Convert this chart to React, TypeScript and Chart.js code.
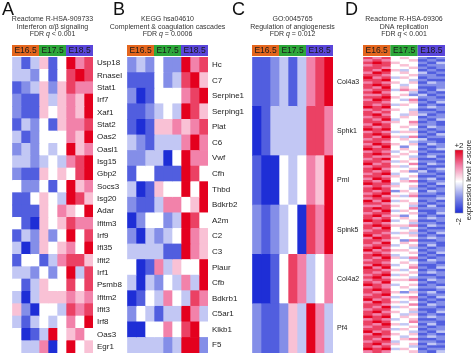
import React, { useEffect, useRef } from "react";
import { Chart, registerables } from "chart.js";
Chart.register(...registerables);

// ---------- data ----------
const sampleLabels = ["E16.5 r1", "E16.5 r2", "E16.5 r3", "E17.5 r1", "E17.5 r2", "E17.5 r3", "E18.5 r1", "E18.5 r2", "E18.5 r3"];
const groupLabels = ["E16.5", "E17.5", "E18.5"];
const groupColors = ["#e4661e", "#2da83a", "#5a46da"];

// levels: digit 0..8 -> z = (d-4)/2, i.e. -2 .. +2
const ifnGenes = ["Usp18", "Rnasel", "Stat1", "Irf7", "Xaf1", "Stat2", "Oas2", "Oasl1", "Isg15", "Gbp2", "Socs3", "Isg20", "Adar", "Ifitm3", "Irf9", "Ifi35", "Ifit2", "Irf1", "Psmb8", "Ifitm2", "Ifit3", "Irf8", "Oas3", "Egr1"];
const ifnLevels = [
  "313 514 867", "332 414 787", "123 525 766", "211 535 658", "211 545 658", "132 415 667",
  "312 444 658", "232 434 856", "332 343 678", "211 545 478", "422 414 856", "114 543 875",
  "111 546 548", "410 545 766", "132 524 847", "302 545 648", "144 136 775", "332 424 837",
  "413 544 747", "303 555 656", "520 443 767", "313 434 648", "401 384 564", "433 604 845",
];

const complementGenes = ["Hc", "C7", "Serpine1", "Serping1", "Plat", "C6", "Vwf", "Cfh", "Thbd", "Bdkrb2", "A2m", "C2", "C3", "Plaur", "Cfb", "Bdkrb1", "C5ar1", "Klkb1", "F5"];
const complementLevels = [
  "232 422 867", "111 423 785", "201 444 678", "112 343 875", "101 556 567", "321 333 686",
  "223 304 866", "144 111 874", "301 544 848", "211 366 458", "024 423 874", "203 234 865",
  "333 311 865", "401 635 448", "303 243 638", "014 364 376", "243 133 863", "004 464 784",
  "333 323 882",
];

const angioGenes = ["Col4a3", "Sphk1", "Pml", "Spink5", "Col4a2", "Pf4"];
const angioLevels = ["112 313 678", "013 333 776", "100 434 658", "212 340 768", "001 476 346", "211 253 863"];

const dnaLevels = [
  "767 454 212", "676 445 121", "787 544 213", "677 454 122", "776 445 212", "768 534 121",
  "687 454 312", "776 445 221", "867 354 122", "778 443 211", "676 545 132", "787 434 222",
  "768 454 112", "677 365 213", "786 443 121", "667 452 312", "778 544 221", "687 436 122",
  "776 445 213", "767 354 121", "878 444 232", "676 543 112", "767 445 221", "786 435 312",
  "677 454 122", "768 344 213", "776 546 121", "687 445 221", "767 454 132", "878 443 212",
  "676 355 121", "787 444 213", "768 536 122", "677 454 311", "776 443 221", "687 545 132",
  "768 424 212", "877 454 123", "676 345 211", "787 454 122", "766 543 231", "678 445 112",
  "776 354 221", "867 446 132", "677 534 211", "786 445 123", "767 452 312", "678 344 221",
  "776 545 112", "687 434 231", "768 456 122", "877 344 213", "676 545 121", "787 443 212",
  "767 254 132", "678 445 221", "786 536 112", "677 444 223", "868 354 121", "776 445 212",
  "667 543 131", "787 446 222", "768 354 112", "677 445 213", "786 524 121", "767 454 232",
  "878 345 112", "676 443 221", "787 556 132", "768 434 211", "677 445 122", "776 353 213",
  "867 445 121", "687 544 232", "776 426 112", "768 454 221", "677 345 131", "786 443 212",
  "867 554 122", "676 445 213", "787 344 121", "768 536 212", "677 443 132", "776 454 221",
  "687 345 112", "868 446 213", "776 534 121", "767 445 232", "678 354 112", "786 443 221",
  "677 556 132", "768 444 212", "876 345 121", "676 454 223", "787 443 112", "767 525 231",
  "678 444 122", "776 356 213", "867 445 121", "687 534 212", "776 446 132", "768 354 221",
  "677 445 112", "786 543 213", "767 435 121", "878 454 232", "676 345 112", "787 446 221",
  "768 534 131", "677 445 212", "776 354 122", "867 443 213", "687 545 121", "776 434 232",
  "768 456 112", "677 344 221", "786 545 132", "767 443 211", "878 354 122", "676 445 213",
];
const dnaRows = dnaLevels.map((_, i) => "row " + (i + 1));

const titleA = ["Reactome R-HSA-909733", "Interferon \u03b1/\u03b2 signaling", "< 0.001"];
const titleB = ["KEGG hsa04610", "Complement & coagulation cascades", "= 0.0006"];
const titleC = ["GO:0045765", "Regulation of angiogenesis", "= 0.012"];
const titleD = ["Reactome R-HSA-69306", "DNA replication", "< 0.001"];
const legendTicks = ["+2", "-2"];
const legendTitle = "expression level z-score";

// ---------- colour map ----------
const FONT = '"Liberation Sans", Arial, Helvetica, sans-serif';
const stops: [number, number[]][] = [
  [-2, [30, 46, 214]],
  [-1, [132, 142, 232]],
  [0, [255, 255, 255]],
  [1, [242, 130, 170]],
  [2, [228, 0, 30]],
];
function zColor(z: number): string {
  const v = Math.max(-2, Math.min(2, z));
  for (let i = 0; i < stops.length - 1; i++) {
    const [a, ca] = stops[i];
    const [b, cb] = stops[i + 1];
    if (v >= a && v <= b) {
      const t = (v - a) / (b - a);
      const c = ca.map((x, k) => Math.round(x + (cb[k] - x) * t));
      return `rgb(${c[0]},${c[1]},${c[2]})`;
    }
  }
  return "#fff";
}

type Panel = {
  key: string;
  letter: string;
  canvasLeft: number;
  canvasWidth: number;
  heatLeft: number;
  heatRight: number;
  letterX: number;
  rows: string[];
  levels: string[];
  title: string[];
  showLabels: boolean;
  labelSize: number;
  dividers: boolean;
  colorbar?: boolean;
};

const panels: Panel[] = [
  { key: "A", letter: "A", canvasLeft: 0, canvasWidth: 136, heatLeft: 12, heatRight: 93, letterX: 2, rows: ifnGenes, levels: ifnLevels, title: titleA, showLabels: true, labelSize: 8, dividers: true },
  { key: "B", letter: "B", canvasLeft: 104, canvasWidth: 150, heatLeft: 127, heatRight: 208, letterX: 113, rows: complementGenes, levels: complementLevels, title: titleB, showLabels: true, labelSize: 8, dividers: true },
  { key: "C", letter: "C", canvasLeft: 228, canvasWidth: 144, heatLeft: 252, heatRight: 333, letterX: 232, rows: angioGenes, levels: angioLevels, title: titleC, showLabels: true, labelSize: 7, dividers: false },
  { key: "D", letter: "D", canvasLeft: 342, canvasWidth: 132, heatLeft: 363, heatRight: 445, letterX: 345, rows: dnaRows, levels: dnaLevels, title: titleD, showLabels: false, labelSize: 7, dividers: true, colorbar: true },
];

const HEAT_TOP = 57;
const HEIGHT = 354;

function decorPlugin(p: Panel) {
  return {
    id: "decor" + p.key,
    afterDraw(chart: any) {
      const ctx = chart.ctx as CanvasRenderingContext2D;
      const area = chart.chartArea;
      const xs = chart.scales.x;
      const off = p.canvasLeft;
      ctx.save();
      // panel letter
      ctx.fillStyle = "#111";
      ctx.font = `18px ${FONT}`;
      ctx.textAlign = "left";
      ctx.textBaseline = "alphabetic";
      ctx.fillText(p.letter, p.letterX - off, 15);
      // titles
      const cx = (area.left + area.right) / 2;
      ctx.fillStyle = "#333";
      ctx.font = `7px ${FONT}`;
      ctx.textAlign = "center";
      ctx.textBaseline = "middle";
      ctx.fillText(p.title[0], cx, 19.5);
      ctx.fillText(p.title[1], cx, 27);
      const parts: [string, string][] = [["FDR ", `7px ${FONT}`], ["q", `italic 7px ${FONT}`], [" " + p.title[2], `7px ${FONT}`]];
      let total = 0;
      parts.forEach(([t, f]) => { ctx.font = f; total += ctx.measureText(t).width; });
      let x = cx - total / 2;
      ctx.textAlign = "left";
      parts.forEach(([t, f]) => { ctx.font = f; ctx.fillText(t, x, 34.5); x += ctx.measureText(t).width; });
      // group headers
      groupLabels.forEach((g, i) => {
        const x0 = xs.getPixelForValue(i * 3);
        const x1 = xs.getPixelForValue(i * 3 + 3);
        ctx.fillStyle = groupColors[i];
        ctx.fillRect(x0, area.top - 12, x1 - x0, 11);
        ctx.fillStyle = "#1a1a1a";
        ctx.font = `8.5px ${FONT}`;
        ctx.textAlign = "center";
        ctx.textBaseline = "middle";
        ctx.fillText(g, (x0 + x1) / 2, area.top - 6.3);
      });
      // colour bar legend
      if (p.colorbar) {
        const bx = 455 - off, bw = 8, by0 = 150, by1 = 213;
        const grad = ctx.createLinearGradient(0, by0, 0, by1);
        for (let k = 0; k <= 20; k++) {
          const z = 2 - (4 * k) / 20;
          grad.addColorStop(k / 20, zColor(z));
        }
        ctx.fillStyle = grad;
        ctx.fillRect(bx, by0, bw, by1 - by0);
        ctx.strokeStyle = "#999";
        ctx.lineWidth = 0.5;
        ctx.strokeRect(bx, by0, bw, by1 - by0);
        ctx.fillStyle = "#222";
        ctx.font = `8px ${FONT}`;
        ctx.textAlign = "center";
        ctx.textBaseline = "alphabetic";
        ctx.fillText(legendTicks[0], bx + bw / 2, by0 - 2);
        ctx.save();
        ctx.translate(bx + bw / 2, by1 + 5);
        ctx.rotate(-Math.PI / 2);
        ctx.textAlign = "right";
        ctx.textBaseline = "middle";
        ctx.fillText(legendTicks[1], 0, 0);
        ctx.restore();
        ctx.save();
        ctx.translate(469 - off, 180);
        ctx.rotate(-Math.PI / 2);
        ctx.textAlign = "center";
        ctx.textBaseline = "middle";
        ctx.font = `7.5px ${FONT}`;
        ctx.fillText(legendTitle, 0, 0);
        ctx.restore();
      }
      ctx.restore();
    },
  };
}

function HeatPanel({ p }: { p: Panel }) {
  const ref = useRef<HTMLCanvasElement>(null);
  useEffect(() => {
    if (!ref.current) return;
    const grid = p.levels.map((s) => s.replace(/\s/g, "").split("").map(Number));
    const datasets = sampleLabels.map((s, c) => ({
      label: s,
      data: grid.map(() => [c, c + 1]),
      backgroundColor: grid.map((r) => zColor((r[c] - 4) / 2)),
      borderWidth: 0,
      barPercentage: 1,
      categoryPercentage: 1,
      grouped: false,
    }));
    const yWidth = p.canvasWidth - (p.heatRight - p.canvasLeft);
    const chart = new Chart(ref.current, {
      type: "bar",
      data: { labels: p.rows, datasets: datasets as any },
      options: {
        indexAxis: "y",
        animation: false,
        responsive: false,
        maintainAspectRatio: false,
        layout: { padding: { top: HEAT_TOP, bottom: 1, left: p.heatLeft - p.canvasLeft, right: 0 } },
        plugins: { legend: { display: false }, tooltip: { enabled: false }, title: { display: false } },
        scales: {
          x: {
            type: "linear",
            position: "top",
            min: 0,
            max: 9,
            z: 1,
            ticks: { display: false, stepSize: 3 },
            border: { display: false },
            grid: {
              drawTicks: false,
              tickLength: 0,
              lineWidth: 1,
              color: (ctx: any) => (p.dividers && (ctx.tick?.value === 3 || ctx.tick?.value === 6) ? "#666" : "rgba(0,0,0,0)"),
            },
            afterFit: (scale: any) => {
              scale.height = 0;
              scale.paddingLeft = 0; scale.paddingRight = 0; scale.paddingTop = 0; scale.paddingBottom = 0;
            },
          },
          y: {
            type: "category",
            position: "right",
            grid: { display: false, drawTicks: false, tickLength: 0 },
            border: { display: false },
            ticks: {
              display: p.showLabels,
              autoSkip: false,
              padding: 4,
              color: "#222",
              font: { size: p.labelSize, family: FONT },
            },
            afterFit: (scale: any) => {
              scale.width = yWidth;
              scale.paddingLeft = 0; scale.paddingRight = 0; scale.paddingTop = 0; scale.paddingBottom = 0;
            },
          },
        },
      },
      plugins: [decorPlugin(p)],
    });
    return () => chart.destroy();
  }, [p]);
  return (
    <canvas
      ref={ref}
      width={p.canvasWidth}
      height={HEIGHT}
      style={{ position: "absolute", left: p.canvasLeft, top: 0, width: p.canvasWidth, height: HEIGHT }}
    />
  );
}

export default function App() {
  return (
    <div style={{ position: "fixed", left: 0, top: 0, width: 474, height: 354, background: "#fff", overflow: "hidden" }}>
      {panels.map((p) => (
        <HeatPanel key={p.key} p={p} />
      ))}
    </div>
  );
}
